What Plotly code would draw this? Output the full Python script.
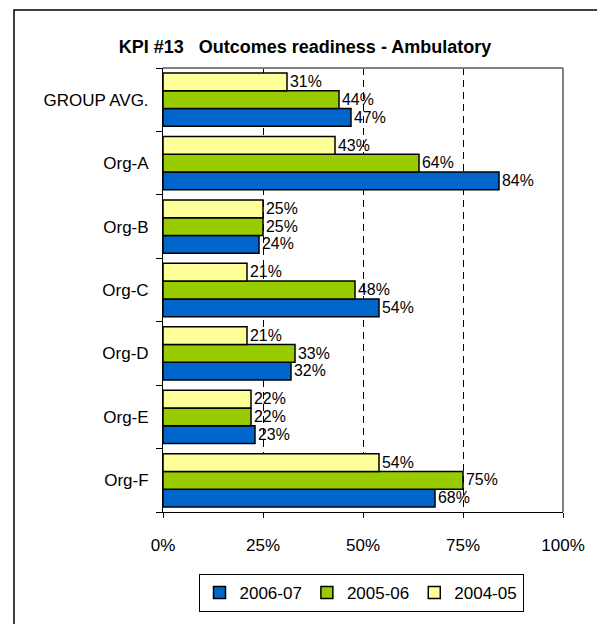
import plotly.graph_objects as go

categories = ["GROUP AVG.", "Org-A", "Org-B", "Org-C", "Org-D", "Org-E", "Org-F"]
series_names = ["2006-07", "2005-06", "2004-05"]
v_2006_07 = [47, 84, 24, 54, 32, 23, 68]
v_2005_06 = [44, 64, 25, 48, 33, 22, 75]
v_2004_05 = [31, 43, 25, 21, 21, 22, 54]
colors = ["#0066CC", "#99CC00", "#FFFF99"]
x_ticks = [0, 25, 50, 75, 100]
title_text = "KPI #13   Outcomes readiness - Ambulatory"

FONT = "Liberation Sans, Arial, sans-serif"
FS = 17

fig = go.Figure()
for name, vals, col in zip(series_names, [v_2006_07, v_2005_06, v_2004_05], colors):
    fig.add_trace(go.Bar(
        name=name, y=categories, x=vals, orientation="h",
        marker=dict(color=col, line=dict(color="black", width=1.5)),
        text=[f"{v}%" for v in vals], textposition="outside",
        textfont=dict(family=FONT, size=FS, color="black"),
        cliponaxis=False,
    ))

# page body has an 8px margin; work in shifted pixel coordinates
OFF = 8
W, H = 605 - OFF, 624 - OFF
L, R, T, B = 163 - OFF, 563 - OFF, 68 - OFF, 519 - OFF
PW, PH = R - L, B - T

def px(x):
    return (x - OFF - L) / PW

def py(y):
    return (B - (y - OFF)) / PH

fig.update_layout(
    width=W, height=H,
    margin=dict(l=L, r=W - R, t=T, b=H - B),
    paper_bgcolor="white", plot_bgcolor="white",
    barmode="group", bargap=0.16, bargroupgap=0,
    font=dict(family=FONT, size=FS, color="black"),
    title=dict(text="<b>" + title_text + "</b>", xref="container", x=(305 - OFF) / W,
               xanchor="center", yref="container", y=1 - (47 - OFF) / H, yanchor="middle",
               font=dict(family=FONT, size=18, color="black")),
    showlegend=True,
    legend=dict(orientation="h", xref="paper", yref="paper",
                x=px(361), xanchor="center",
                y=py(582), yanchor="top",
                bordercolor="black", borderwidth=1, bgcolor="white",
                font=dict(family=FONT, size=FS, color="black"),
                itemwidth=30, tracegroupgap=0),
    xaxis=dict(range=[0, 100], tickvals=x_ticks, ticktext=[f"{t}%" for t in x_ticks],
               showgrid=True, gridcolor="black", griddash="7px,5px", gridwidth=1,
               showline=True, linecolor="black", linewidth=1,
               ticks="outside", ticklen=5, tickcolor="black",
               ticklabelstandoff=13, zeroline=False,
               tickfont=dict(family=FONT, size=FS, color="black")),
    yaxis=dict(categoryorder="array", categoryarray=categories[::-1],
               showline=True, linecolor="black", linewidth=1,
               ticks="outside", tickson="boundaries", ticklen=6, tickcolor="black",
               showgrid=False, ticklabelstandoff=10,
               tickfont=dict(family=FONT, size=FS, color="black")),
    shapes=[
        dict(type="line", xref="paper", yref="paper", x0=0, x1=1, y0=1, y1=1,
             line=dict(color="#808080", width=2), layer="above"),
        dict(type="line", xref="paper", yref="paper", x0=1, x1=1, y0=0, y1=1,
             line=dict(color="#808080", width=2), layer="above"),
        dict(type="rect", xref="paper", yref="paper",
             x0=px(14), x1=px(598), y0=py(660), y1=py(9),
             line=dict(color="black", width=1.5), layer="above"),
    ],
)

fig.write_html("out.html")
